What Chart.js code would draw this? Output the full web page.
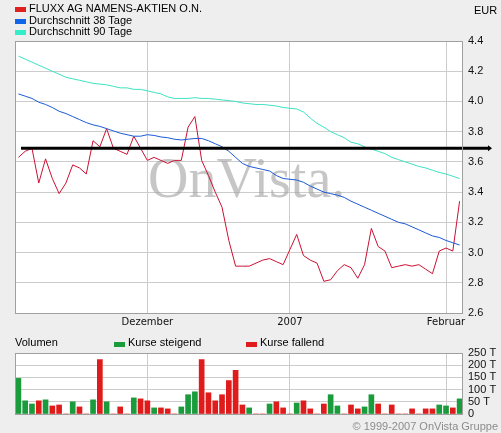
<!DOCTYPE html>
<html>
<head>
<meta charset="utf-8">
<title>FLUXX AG</title>
<script src="https://cdn.jsdelivr.net/npm/chart.js@4/dist/chart.umd.min.js"></script>
<style>
body { margin: 0; background: #eeeeee; font-family: "Liberation Sans", Arial, sans-serif; }
#wrap { position: relative; width: 501px; height: 433px; overflow: hidden; }
#priceBox { position: absolute; left: 0; top: 0; width: 501px; height: 330px; }
#volBox { position: absolute; left: 0; top: 330px; width: 501px; height: 103px; }
.txt { position: absolute; font-size: 11px; line-height: 13px; color: #000; white-space: nowrap; }
.sq { position: absolute; width: 11px; height: 5px; }
</style>
</head>
<body>
<div id="wrap">
  <div id="priceBox"><canvas id="priceChart"></canvas></div>
  <div id="volBox"><canvas id="volChart"></canvas></div>

  <div class="sq" style="left:15px; top:7px; background:#e0201c;"></div>
  <div class="txt" style="left:29px; top:2px;">FLUXX AG NAMENS-AKTIEN O.N.</div>
  <div class="sq" style="left:15px; top:19px; background:#1166e8;"></div>
  <div class="txt" style="left:29px; top:14px;">Durchschnitt 38 Tage</div>
  <div class="sq" style="left:15px; top:30px; background:#33eec8;"></div>
  <div class="txt" style="left:29px; top:25px;">Durchschnitt 90 Tage</div>
  <div class="txt" style="left:474px; top:4px;">EUR</div>

  <div class="txt" style="left:15px; top:336px;">Volumen</div>
  <div class="sq" style="left:114px; top:342px; background:#1a9b3c;"></div>
  <div class="txt" style="left:128px; top:336px;">Kurse steigend</div>
  <div class="sq" style="left:246px; top:342px; background:#e01b1b;"></div>
  <div class="txt" style="left:260px; top:336px;">Kurse fallend</div>

  <div class="txt" style="right:3px; top:420px; color:#8c8c8c;">&copy; 1999-2007 OnVista Gruppe</div>
</div>

<script>
'use strict';

// data: every weekday from 06.11.2006 to 05.02.2007

var days = [
  '06.11.', '07.11.', '08.11.', '09.11.', '10.11.',
  '13.11.', '14.11.', '15.11.', '16.11.', '17.11.',
  '20.11.', '21.11.', '22.11.', '23.11.', '24.11.',
  '27.11.', '28.11.', '29.11.', '30.11.', '01.12.',
  '04.12.', '05.12.', '06.12.', '07.12.', '08.12.',
  '11.12.', '12.12.', '13.12.', '14.12.', '15.12.',
  '18.12.', '19.12.', '20.12.', '21.12.', '22.12.',
  '25.12.', '26.12.', '27.12.', '28.12.', '29.12.',
  '01.01.', '02.01.', '03.01.', '04.01.', '05.01.',
  '08.01.', '09.01.', '10.01.', '11.01.', '12.01.',
  '15.01.', '16.01.', '17.01.', '18.01.', '19.01.',
  '22.01.', '23.01.', '24.01.', '25.01.', '26.01.',
  '29.01.', '30.01.', '31.01.', '01.02.', '02.02.',
  '05.02.'
];

// month labels under the x axis
var monthTicks = { '01.12.': 'Dezember', '01.01.': '2007', '01.02.': 'Februar' };

var kurs = [
  3.63, 3.67, 3.69, 3.46, 3.62, 3.49, 3.39, 3.46, 3.58, 3.56,
  3.52, 3.74, 3.70, 3.82, 3.69, 3.67, 3.65, 3.77, 3.69, 3.61,
  3.63, 3.61, 3.59, 3.61, 3.61, 3.83, 3.90, 3.61, 3.51, 3.40,
  3.30, 3.08, 2.91, 2.91, 2.91, 2.93, 2.95, 2.96, 2.94, 2.92,
  3.02, 3.12, 2.98, 2.95, 2.93, 2.81, 2.82, 2.88, 2.92, 2.90,
  2.83, 2.92, 3.16, 3.04, 3.01, 2.90, 2.91, 2.92, 2.91, 2.92,
  2.89, 2.86, 3.01, 3.03, 3.01, 3.34
];

var schnitt38 = [
  4.05, 4.035, 4.02, 3.995, 3.98, 3.96, 3.935, 3.92, 3.90, 3.88,
  3.86, 3.845, 3.835, 3.82, 3.805, 3.79, 3.78, 3.77, 3.77, 3.78,
  3.775, 3.765, 3.76, 3.75, 3.745, 3.75, 3.755, 3.755, 3.74, 3.72,
  3.70, 3.67, 3.63, 3.59, 3.57, 3.56, 3.55, 3.54, 3.51, 3.49,
  3.485, 3.48, 3.465, 3.44, 3.42, 3.40, 3.39, 3.38, 3.365, 3.34,
  3.32, 3.30, 3.28, 3.26, 3.24, 3.22, 3.20, 3.19, 3.17, 3.15,
  3.13, 3.11, 3.10, 3.08, 3.065, 3.05
];

var schnitt90 = [
  4.30, 4.28, 4.26, 4.24, 4.22, 4.20, 4.18, 4.16, 4.15, 4.14,
  4.13, 4.12, 4.115, 4.11, 4.10, 4.09, 4.09, 4.08, 4.08, 4.07,
  4.06, 4.05, 4.03, 4.02, 4.02, 4.02, 4.025, 4.02, 4.02, 4.015,
  4.01, 4.005, 4.00, 3.99, 3.985, 3.98, 3.98, 3.975, 3.97, 3.96,
  3.955, 3.95, 3.93, 3.89, 3.855, 3.83, 3.80, 3.78, 3.76, 3.73,
  3.72, 3.70, 3.685, 3.67, 3.655, 3.63, 3.615, 3.60, 3.585, 3.57,
  3.56, 3.545, 3.53, 3.52, 3.505, 3.49
];

// volume in thousand shares
var volumen = [
  146, 54, 41, 54, 58, 33, 37, 0, 50, 29,
  0, 58, 223, 50, 0, 29, 0, 66, 62, 54,
  25, 25, 21, 0, 29, 79, 91, 223, 87, 54,
  79, 137, 179, 37, 25, 0, 0, 41, 50, 25,
  0, 45, 54, 21, 0, 41, 79, 33, 0, 37,
  21, 29, 79, 41, 0, 37, 0, 0, 21, 0,
  21, 21, 37, 33, 25, 62
];

// 1 = Kurs steigend, 0 = Kurs fallend
var steigend = [
  1, 1, 1, 0, 1, 0, 0, 0, 1, 0,
  0, 1, 0, 1, 0, 0, 0, 1, 0, 0,
  1, 0, 0, 0, 1, 1, 1, 0, 0, 0,
  0, 0, 0, 0, 1, 0, 0, 1, 0, 0,
  0, 1, 0, 0, 0, 0, 1, 1, 0, 0,
  0, 1, 1, 0, 0, 0, 0, 0, 0, 0,
  0, 0, 1, 1, 0, 1
];

var refLevel = 3.69; // black marker line

var gridColor = '#cccccc';
var frameColor = '#a0a0a0';

function monthGrid(ctx) {
  return monthTicks[days[ctx.index]] ? gridColor : 'rgba(0,0,0,0)';
}

// white plot area + frame
var plotFrame = {
  id: 'plotFrame',
  beforeDraw: function(chart) {
    var a = chart.chartArea;
    chart.ctx.save();
    chart.ctx.fillStyle = '#ffffff';
    chart.ctx.fillRect(a.left, a.top, a.right - a.left, a.bottom - a.top);
    chart.ctx.restore();
  },
  afterDraw: function(chart) {
    var a = chart.chartArea;
    var c = chart.ctx;
    c.save();
    c.strokeStyle = frameColor;
    c.lineWidth = 1;
    c.strokeRect(Math.round(a.left) + 0.5, Math.round(a.top) + 0.5,
      Math.round(a.right - a.left) - 1, Math.round(a.bottom - a.top));
    c.restore();
  }
};

var watermark = {
  id: 'watermark',
  beforeDatasetsDraw: function(chart) {
    var c = chart.ctx;
    c.save();
    c.font = '56px "Liberation Serif", "DejaVu Serif", serif';
    c.fillStyle = 'rgba(160,160,160,0.6)';
    c.textBaseline = 'alphabetic';
    c.fillText('OnVista.', 148, 197);
    c.restore();
  }
};

var refLine = {
  id: 'refLine',
  afterDatasetsDraw: function(chart) {
    var y = chart.scales.y.getPixelForValue(refLevel);
    var a = chart.chartArea;
    var c = chart.ctx;
    var x1 = a.left + 6;
    var x2 = a.right + 26;
    c.save();
    c.strokeStyle = '#000000';
    c.lineWidth = 3;
    c.beginPath();
    c.moveTo(x1, y);
    c.lineTo(x2, y);
    c.stroke();
    c.fillStyle = '#000000';
    c.beginPath();
    c.moveTo(x2 + 3, y);
    c.lineTo(x2 - 1, y - 3);
    c.lineTo(x2 - 1, y + 3);
    c.closePath();
    c.fill();
    c.restore();
  }
};

var tickFont = { family: '"Liberation Sans", Arial, sans-serif', size: 11 };

new Chart(document.getElementById('priceChart'), {
  type: 'line',
  data: {
    labels: days,
    datasets: [
      { label: 'Durchschnitt 90 Tage', data: schnitt90, borderColor: '#3de3c3', borderWidth: 1, pointRadius: 0, tension: 0 },
      { label: 'Durchschnitt 38 Tage', data: schnitt38, borderColor: '#1c5ad6', borderWidth: 1, pointRadius: 0, tension: 0 },
      { label: 'FLUXX AG NAMENS-AKTIEN O.N.', data: kurs, borderColor: '#cc1133', borderWidth: 1, pointRadius: 0, tension: 0 }
    ]
  },
  options: {
    responsive: true,
    maintainAspectRatio: false,
    animation: false,
    layout: { padding: { left: 15, top: 41, right: 0, bottom: 0 } },
    plugins: { legend: { display: false }, tooltip: { enabled: false } },
    scales: {
      x: {
        offset: true,
        grid: { offset: false, drawTicks: false, color: monthGrid },
        border: { display: false },
        ticks: {
          autoSkip: false,
          maxRotation: 0,
          padding: 3,
          color: '#111111',
          font: { family: '"DejaVu Sans", Verdana, sans-serif', size: 10 },
          callback: function(v, i) { return monthTicks[days[i]] || ''; }
        },
        afterFit: function(scale) { scale.height = 17; }
      },
      y: {
        position: 'right',
        min: 2.6,
        max: 4.4,
        grid: { drawTicks: false, color: gridColor },
        border: { display: false },
        ticks: {
          stepSize: 0.2,
          autoSkip: false,
          padding: 5,
          color: '#111111',
          font: tickFont,
          callback: function(v) { return v.toFixed(1); }
        },
        afterFit: function(scale) { scale.width = 38; }
      }
    }
  },
  plugins: [plotFrame, watermark, refLine]
});

var volUp = volumen.map(function(v, i) { return steigend[i] ? v : null; });
var volDown = volumen.map(function(v, i) { return steigend[i] ? null : v; });

new Chart(document.getElementById('volChart'), {
  type: 'bar',
  data: {
    labels: days,
    datasets: [
      { label: 'Kurse steigend', data: volUp, backgroundColor: '#1a9b3c', barThickness: 5, grouped: false },
      { label: 'Kurse fallend', data: volDown, backgroundColor: '#e01b1b', barThickness: 5, grouped: false }
    ]
  },
  options: {
    responsive: true,
    maintainAspectRatio: false,
    animation: false,
    layout: { padding: { left: 15, top: 23, right: 0, bottom: 0 } },
    plugins: { legend: { display: false }, tooltip: { enabled: false } },
    scales: {
      x: {
        offset: true,
        grid: { offset: false, drawTicks: false, color: monthGrid },
        border: { display: false },
        ticks: { display: false, autoSkip: false },
        afterFit: function(scale) { scale.height = 19; }
      },
      y: {
        position: 'right',
        min: 0,
        max: 250,
        grid: { drawTicks: false, color: gridColor },
        border: { display: false },
        ticks: {
          stepSize: 50,
          autoSkip: false,
          padding: 5,
          color: '#111111',
          font: { family: '"Liberation Sans", Arial, sans-serif', size: 11, lineHeight: 1 },
          callback: function(v) { return v === 0 ? '0' : v + ' T'; }
        },
        afterFit: function(scale) { scale.width = 38; }
      }
    }
  },
  plugins: [plotFrame]
});
</script>
</body>
</html>
